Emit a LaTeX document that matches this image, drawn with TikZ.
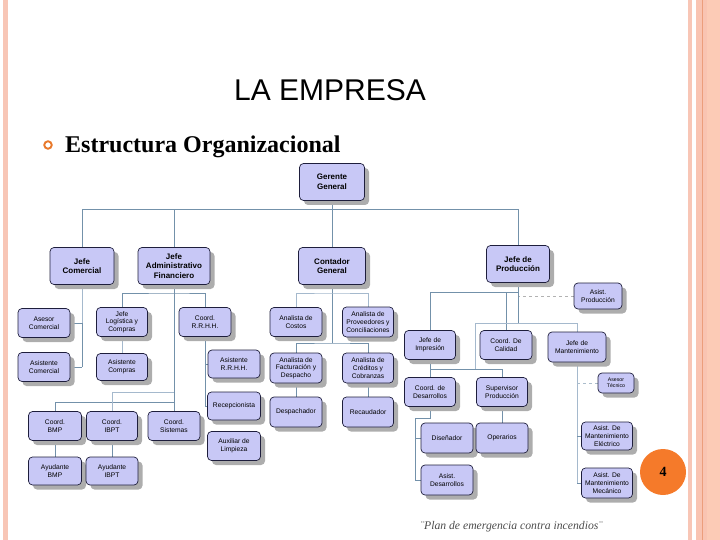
\documentclass[tikz,border=0pt]{standalone}
\usepackage{fontspec}
\setmainfont{Liberation Serif}
\setsansfont{Liberation Sans}
\usetikzlibrary{shadows,backgrounds}
\definecolor{boxfill}{RGB}{200,200,246}
\definecolor{boxdraw}{RGB}{30,30,60}
\definecolor{conn}{RGB}{115,145,170}
\definecolor{connlight}{RGB}{165,185,205}
\definecolor{stripeA}{RGB}{248,198,182}
\definecolor{stripeB}{RGB}{249,196,178}
\definecolor{stripeC}{RGB}{236,158,124}
\definecolor{stripeD}{RGB}{252,203,182}
\definecolor{bulletor}{RGB}{232,120,42}
\definecolor{circor}{RGB}{245,122,42}
\tikzset{
 orgbox/.style={draw=boxdraw, line width=0.7pt, fill=boxfill, rounded corners=4pt,
   align=center, inner sep=0.5pt, font=\sffamily\fontsize{6.7}{7.7}\selectfont,
   minimum width=52pt, minimum height=29pt,
   drop shadow={shadow xshift=4.5pt, shadow yshift=-4.5pt, fill=black!32, opacity=1}},
 topbox/.style={orgbox, font=\sffamily\bfseries\fontsize{8}{9.6}\selectfont,
   minimum width=65pt, minimum height=37pt},
 link/.style={draw=conn, line width=0.7pt},
 lightlink/.style={draw=connlight, line width=0.7pt},
 dashlink/.style={draw=black!30, line width=0.8pt, dashed}
}
\begin{document}
\begin{tikzpicture}[x=1pt,y=-1pt]
\useasboundingbox (0,0) rectangle (720,540);
% borders
\fill[stripeA] (3,0) rectangle (8,540);
\fill[stripeA] (688,0) rectangle (692,540);
\fill[stripeB] (696,0) rectangle (720,540);
\fill[stripeD] (707,0) rectangle (720,540);
\fill[stripeC] (702,0) rectangle (703.4,540);
% titles
\node[anchor=base, font=\sffamily\fontsize{30}{34}\selectfont, inner sep=0] (title) at (330,101) {LA EMPRESA};
\node[circle, draw=bulletor, line width=1.9pt, fill=white, minimum size=7.5pt, inner sep=0] (bul) at (48,145) {};
\node[anchor=base west, font=\bfseries\fontsize{24}{26}\selectfont, inner sep=0] (sub) at (65,153) {Estructura Organizacional};
% top level
\node[topbox] (gg) at (332,182) {Gerente\\General};
\node[topbox, minimum width=64pt] (jc) at (82,266) {Jefe\\Comercial};
\node[topbox, minimum width=72pt] (jaf) at (174,266) {Jefe\\Administrativo\\Financiero};
\node[topbox, minimum width=67pt] (cg) at (332,266) {Contador\\General};
\node[topbox, minimum width=63pt] (jp) at (518,264) {Jefe de\\Producción};
% comercial / administrativo
\node[orgbox] (asc) at (44,323) {Asesor\\Comercial};
\node[orgbox] (asic) at (44,367) {Asistente\\Comercial};
\node[orgbox, minimum width=51pt] (jlc) at (122,322) {Jefe\\Logística y\\Compras};
\node[orgbox, minimum width=51pt, minimum height=27pt] (asco) at (122,367) {Asistente\\Compras};
\node[orgbox] (rrhh) at (205,322) {Coord.\\R.R.H.H.};
\node[orgbox, minimum height=28pt] (arrhh) at (234,364) {Asistente\\R.R.H.H.};
\node[orgbox, minimum width=53pt, minimum height=28pt] (rec) at (234,406) {Recepcionista};
\node[orgbox, minimum width=53pt] (aux) at (234,446) {Auxiliar de\\Limpieza};
\node[orgbox, minimum width=53pt] (cbmp) at (55,426) {Coord.\\BMP};
\node[orgbox, minimum width=51pt] (cibpt) at (112,426) {Coord.\\IBPT};
\node[orgbox] (csis) at (174,426) {Coord.\\Sistemas};
\node[orgbox, minimum width=53pt, minimum height=28pt] (abmp) at (55,471) {Ayudante\\BMP};
\node[orgbox, minimum height=28pt] (aibpt) at (112,471) {Ayudante\\IBPT};
% contador
\node[orgbox] (acos) at (296,322) {Analista de\\Costos};
\node[orgbox, minimum width=51pt, minimum height=30pt] (aprov) at (368,322) {Analista de\\Proveedores y\\Conciliaciones};
\node[orgbox, minimum height=30pt] (afac) at (296,368) {Analista de\\Facturación y\\Despacho};
\node[orgbox, minimum width=51pt, minimum height=30pt] (acred) at (368,368) {Analista de\\Créditos y\\Cobranzas};
\node[orgbox, minimum height=30pt] (desp) at (296,412) {Despachador};
\node[orgbox, minimum width=51pt, minimum height=30pt] (reca) at (368,412) {Recaudador};
% produccion
\node[orgbox, minimum width=48pt, minimum height=26pt] (aprod) at (598,296) {Asist.\\Producción};
\node[orgbox, minimum width=51pt] (jimp) at (430,345) {Jefe de\\Impresión};
\node[orgbox] (ccal) at (506,345) {Coord. De\\Calidad};
\node[orgbox, minimum width=58pt, minimum height=30pt] (jman) at (577,347) {Jefe de\\Mantenimiento};
\node[orgbox, minimum width=36pt, minimum height=20pt, font=\sffamily\fontsize{5.2}{6.2}\selectfont] (atec) at (616,383) {Asesor\\Técnico};
\node[orgbox, minimum width=51pt] (cdes) at (430,392) {Coord. de\\Desarrollos};
\node[orgbox, minimum width=51pt] (sprod) at (502,392) {Supervisor\\Producción};
\node[orgbox, minimum height=30pt] (dis) at (447,438) {Diseñador};
\node[orgbox, minimum height=30pt] (oper) at (502,438) {Operarios};
\node[orgbox, minimum height=30pt] (ades) at (447,480) {Asist.\\Desarrollos};
\node[orgbox, minimum width=51pt, minimum height=28pt] (ame) at (607,436) {Asist. De\\Mantenimiento\\Eléctrico};
\node[orgbox, minimum width=51pt, minimum height=30pt] (amm) at (607,483) {Asist. De\\Mantenimiento\\Mecánico};
% page number and footer
\node[circle, fill=circor, minimum size=46pt, inner sep=0, font=\bfseries\fontsize{14}{16}\selectfont] (num) at (663,472) {4};
\node[anchor=base west, inner sep=0, text=black!70, font=\itshape\fontsize{11.7}{14}\selectfont] (foot) at (420,529) {¨Plan de emergencia contra incendios¨};
% connectors
\begin{scope}[on background layer]
\coordinate (tl) at (82,209);
\coordinate (jcb) at (82,367);
\coordinate (ja1) at (174,293);
\coordinate (ja2) at (174,402);
\coordinate (ja3) at (174,392);
\coordinate (cg1) at (332,293);
\coordinate (cg2) at (332,343);
\coordinate (p1) at (518,292);
\coordinate (p2) at (518,323);
\coordinate (p3) at (475,323);
\coordinate (p4) at (577,323);
\coordinate (p5) at (475,369);
\coordinate (p6) at (415,418);
\draw[link] (gg.south) -- (cg.north);
\draw[link] (jc.north) -- (tl) -| (jp.north);
\draw[link] (jaf.north) -- (jaf.north |- tl);
\draw[lightlink] (jc.south) -- (jcb);
\draw[link] (asc.east) -| (jcb);
\draw[link] (asic.east) -- (jcb);
\draw[link] (jaf.south) -- (csis.north);
\draw[link] (jlc.north) |- (ja1) -| (rrhh.north);
\draw[lightlink] (jlc.south) -- (asco.north);
\draw[link] (rrhh.south) |- (rec.west);
\draw[link] (arrhh.west) -- (arrhh.west -| rrhh.south);
\draw[link] (cbmp.north) |- (ja2);
\draw[lightlink] (cibpt.north) |- (ja3);
\draw[link] (cbmp.south) -- (abmp.north);
\draw[link] (cibpt.south) -- (aibpt.north);
\draw[link] (cg.south) -- (cg2);
\draw[lightlink] (acos.north) |- (cg1) -| (aprov.north);
\draw[link] (afac.north) |- (cg2) -| (acred.north);
\draw[link] (afac.south) -- (desp.north);
\draw[link] (acred.south) -- (reca.north);
\draw[dashlink] (aprod.west) -- (aprod.west -| jp.south);
\draw[link] (jimp.north) |- (p1);
\draw[link] (jp.south) -- (p2);
\draw[link] (ccal.north) -- (ccal.north |- p1);
\draw[lightlink] (p3) -- (p4);
\draw[lightlink] (p4) -- (amm.west -| p4);
\draw[link] (ame.west) -- (ame.west -| p4);
\draw[link] (amm.west) -- (amm.west -| p4);
\draw[dashlink, draw=conn!60] (atec.west) -- (atec.west -| p4);
\draw[lightlink] (p3) -- (p5);
\draw[link] (jimp.south) -- (cdes.north);
\draw[link] (cdes.north |- p5) -| (sprod.north);
\draw[link] (cdes.south) |- (p6) |- (ades.west);
\draw[link] (dis.west) -- (dis.west -| p6);
\draw[link] (sprod.south) -- (oper.north);
\end{scope}
\end{tikzpicture}
\end{document}
